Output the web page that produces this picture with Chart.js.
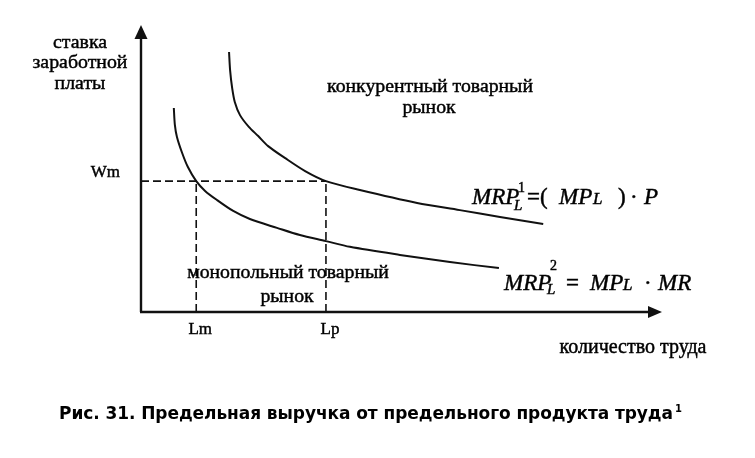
<!DOCTYPE html>
<html>
<head>
<meta charset="utf-8">
<script src="https://cdn.jsdelivr.net/npm/chart.js@4"></script>
<style>
  body { margin: 0; background: #fff; }
  #wrap { width: 755px; height: 458px; }
</style>
</head>
<body>
<div id="wrap"><canvas id="myChart" width="755" height="458"></canvas></div>
<script>
// кривая MRP1 (конкурентный рынок), условные единицы 0..100
const upperX = [16.9, 17.1, 17.5, 18.0, 19.0, 20.7, 22.5, 24.4, 27.6, 31.5, 35.5, 42.0, 53.0, 61.2, 68.9, 77.2];
const upperY = [90.6, 84.3, 78.0, 73.2, 68.6, 64.5, 61.3, 57.8, 53.7, 49.1, 45.6, 42.5, 38.0, 35.5, 33.1, 30.7];

// кривая MRP2 (монопольный рынок)
const lowerX = [6.3, 6.5, 6.9, 7.9, 9.0, 10.6, 12.3, 14.6, 17.7, 20.9, 26.1, 30.5, 35.5, 40.1, 49.7, 59.3, 68.7];
const lowerY = [71.1, 65.2, 61.0, 55.4, 50.5, 45.6, 42.2, 39.0, 35.2, 32.4, 29.3, 26.8, 24.7, 22.7, 19.9, 17.4, 15.3];

// отметки на осях
const xTickValues = [10.6, 35.5];
const xTickLabels = ["Lm", "Lp"];
const yTickValues = [45.6];
const yTickLabels = ["Wm"];

const toPoints = (xs, ys) => xs.map((x, i) => ({x: x, y: ys[i]}));

const wm = yTickValues[0];
const lm = xTickValues[0];
const lp = xTickValues[1];

const dashStyle = {
    borderColor: "#111",
    borderWidth: 1.6,
    borderDash: [8, 4],
    pointRadius: 0,
    tension: 0
};

const curveStyle = {
    borderColor: "#111",
    borderWidth: 2,
    pointRadius: 0,
    tension: 0.3
};

// подбор размера шрифта под нужную ширину
function fitSize(ctx, text, family, weight, width) {
    ctx.font = weight + " 100px " + family;
    return 100 * width / ctx.measureText(text).width;
}

// текст с лёгкой обводкой, чтобы был плотнее, как на скане
function ink(ctx, text, x, y) {
    ctx.fillText(text, x, y);
    ctx.strokeText(text, x, y);
}

// формула по кусочкам: [текст, шрифт, dx, dy]
function formula(ctx, x0, y0, parts) {
    ctx.textAlign = "left";
    ctx.textBaseline = "alphabetic";
    for (const p of parts) {
        ctx.font = p[1];
        ink(ctx, p[0], x0 + p[2], y0 + p[3]);
    }
}

const serif = '"Liberation Serif", "DejaVu Serif", serif';
const it23 = 'italic 23px "Liberation Serif"';
const up23 = '23px "Liberation Serif"';
const it15 = 'italic 15px "Liberation Serif"';
const it16 = 'italic 17px "Liberation Serif"';
const up13 = '14px "Liberation Serif"';

const decor = {
    id: "decor",
    afterDraw(chart) {
        const ctx = chart.ctx;
        const xs = chart.scales.x;
        const ys = chart.scales.y;
        const ox = xs.getPixelForValue(0);
        const oy = ys.getPixelForValue(0);
        const top = ys.getPixelForValue(100);
        const right = xs.getPixelForValue(100);
        ctx.save();
        ctx.strokeStyle = "#111";
        ctx.fillStyle = "#111";
        ctx.lineWidth = 2.4;
        // оси
        ctx.beginPath();
        ctx.moveTo(ox, oy);
        ctx.lineTo(ox, top + 10);
        ctx.moveTo(ox - 1, oy);
        ctx.lineTo(right - 10, oy);
        ctx.stroke();
        // стрелки
        ctx.beginPath();
        ctx.moveTo(ox, top);
        ctx.lineTo(ox - 6.5, top + 14);
        ctx.lineTo(ox + 6.5, top + 14);
        ctx.closePath();
        ctx.fill();
        ctx.beginPath();
        ctx.moveTo(right, oy);
        ctx.lineTo(right - 14, oy - 6);
        ctx.lineTo(right - 14, oy + 6);
        ctx.closePath();
        ctx.fill();

        ctx.fillStyle = "#000";
        ctx.strokeStyle = "#000";
        ctx.lineWidth = 0.45;
        // подписи отметок
        ctx.font = '17px ' + serif;
        ctx.textBaseline = "middle";
        ctx.textAlign = "right";
        yTickValues.forEach((v, i) => {
            ink(ctx, yTickLabels[i], ox - 21, ys.getPixelForValue(v) - 9);
        });
        ctx.textAlign = "center";
        xTickValues.forEach((v, i) => {
            ink(ctx, xTickLabels[i], xs.getPixelForValue(v) + 4, oy + 18);
        });

        // заголовки осей
        const ySize = fitSize(ctx, "заработной", serif, "normal", 95);
        ctx.font = ySize + "px " + serif;
        ctx.textAlign = "center";
        ink(ctx, "ставка", 80, 43);
        ink(ctx, "заработной", 80, 63);
        ink(ctx, "платы", 80, 84);
        const xSize = fitSize(ctx, "количество труда", serif, "normal", 147);
        ctx.font = xSize + "px " + serif;
        ink(ctx, "количество труда", 633, 348);

        // подписи рынков
        const mSize = fitSize(ctx, "конкурентный товарный", serif, "normal", 206);
        ctx.font = mSize + "px " + serif;
        ink(ctx, "конкурентный товарный", 430, 87);
        ink(ctx, "рынок", 429, 108);
        ink(ctx, "монопольный товарный", 288, 273);
        ink(ctx, "рынок", 287, 297);

        // формулы
        formula(ctx, 472, 204, [
            ["MRP", it23, 0, 0],
            ["L", it15, 42, 6],
            ["1", up13, 46, -12],
            ["=(", up23, 55, 0],
            ["MP", it23, 87, 0],
            ["L", it16, 121, 0],
            [")", up23, 146, 0],
            ["\u00b7", up23, 158, 0],
            ["P", it23, 172, 0]
        ]);
        formula(ctx, 504, 290, [
            ["MRP", it23, 0, 0],
            ["L", it15, 43, 4],
            ["2", up13, 46, -20],
            ["=", up23, 62, 0],
            ["MP", it23, 86, 0],
            ["L", it16, 119, 0],
            ["\u00b7", up23, 140, 0],
            ["MR", it23, 154, 0]
        ]);

        // подпись рисунка
        const cap = "Рис. 31. Предельная выручка от предельного продукта труда";
        ctx.font = 'bold 17px "DejaVu Sans", sans-serif';
        ctx.textAlign = "left";
        ctx.textBaseline = "alphabetic";
        ctx.letterSpacing = "0px";
        const natural = ctx.measureText(cap).width;
        const sp = (614 - natural) / (cap.length - 1);
        ctx.letterSpacing = sp + "px";
        ctx.fillText(cap, 59, 419);
        ctx.letterSpacing = "0px";
        ctx.font = 'bold 10px "DejaVu Sans", sans-serif';
        ctx.fillText("1", 675, 412);
        ctx.restore();
    }
};

const ctx = document.getElementById("myChart").getContext("2d");

const chart = new Chart(ctx, {
    type: "line",
    data: {
        datasets: [
            Object.assign({label: "MRP1", data: toPoints(upperX, upperY)}, curveStyle),
            Object.assign({label: "MRP2", data: toPoints(lowerX, lowerY)}, curveStyle),
            Object.assign({label: "Wm", data: [{x: 0, y: wm}, {x: lp, y: wm}]}, dashStyle),
            Object.assign({label: "Lm", data: [{x: lm, y: 0}, {x: lm, y: wm}]}, dashStyle),
            Object.assign({label: "Lp", data: [{x: lp, y: 0}, {x: lp, y: wm}]}, dashStyle)
        ]
    },
    options: {
        responsive: false,
        animation: false,
        layout: {padding: {left: 141, right: 93, top: 25, bottom: 146}},
        plugins: {legend: {display: false}, tooltip: {enabled: false}},
        scales: {
            x: {type: "linear", min: 0, max: 100, display: false},
            y: {type: "linear", min: 0, max: 100, display: false}
        }
    },
    plugins: [decor]
});
</script>
</body>
</html>
